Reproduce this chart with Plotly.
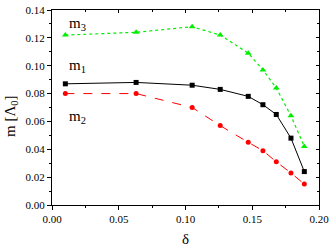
import plotly.graph_objects as go

delta = [0.01, 0.063, 0.105, 0.126, 0.147, 0.158, 0.168, 0.179, 0.189]
m1 = [0.087, 0.088, 0.086, 0.083, 0.078, 0.072, 0.065, 0.048, 0.024]
m2 = [0.080, 0.080, 0.070, 0.057, 0.045, 0.039, 0.031, 0.023, 0.015]
m3 = [0.122, 0.124, 0.128, 0.122, 0.109, 0.097, 0.084, 0.064, 0.042]

x_ticks = [0.00, 0.05, 0.10, 0.15, 0.20]
y_ticks = [0.00, 0.02, 0.04, 0.06, 0.08, 0.10, 0.12, 0.14]

FONT = "'Liberation Serif', 'DejaVu Serif', serif"

fig = go.Figure()
fig.add_trace(go.Scatter(x=delta, y=m3, mode="lines+markers",
                         line=dict(color="#00ee00", width=1.2, dash="dot"),
                         marker=dict(symbol="triangle-up", size=6, color="#00ee00")))
fig.add_trace(go.Scatter(x=delta, y=m1, mode="lines+markers",
                         line=dict(color="black", width=1),
                         marker=dict(symbol="square", size=5, color="black")))
fig.add_trace(go.Scatter(x=delta, y=m2, mode="lines+markers",
                         line=dict(color="red", width=1, dash="dash"),
                         marker=dict(symbol="circle", size=5, color="red")))

# invisible trace to activate secondary axes
fig.add_trace(go.Scatter(x=[0], y=[0], xaxis="x2", yaxis="y2", mode="markers",
                         marker=dict(opacity=0), hoverinfo="skip"))

labels = [("m<sub>3</sub>", 0.130), ("m<sub>1</sub>", 0.100), ("m<sub>2</sub>", 0.063)]
for txt, yv in labels:
    fig.add_annotation(x=0.011, y=yv, text=txt, showarrow=False, xanchor="left",
                       font=dict(family=FONT, size=15, color="black"))

# axis titles
fig.add_annotation(x=0.5, y=-0.174, xref="paper", yref="paper", text="δ", showarrow=False,
                   xanchor="center", yanchor="middle",
                   font=dict(family=FONT, size=15, color="black"))
fig.add_annotation(x=-0.154, y=0.456, xref="paper", yref="paper", text="m [Λ<sub>0</sub>]",
                   showarrow=False, textangle=-90, xanchor="center", yanchor="middle",
                   font=dict(family=FONT, size=15, color="black"))

common_axis = dict(showgrid=False, zeroline=False, showline=True, linecolor="black",
                   linewidth=1, ticks="outside", ticklen=4, tickcolor="black",
                   automargin=False, tickmode="array",
                   tickfont=dict(family=FONT, size=11, color="black"))

fig.update_layout(
    width=332, height=248,
    margin=dict(l=52, r=13, t=10, b=43),
    plot_bgcolor="white", paper_bgcolor="white",
    font=dict(family=FONT, size=11, color="black"),
    showlegend=False,
    xaxis=dict(range=[0, 0.2], tickvals=x_ticks, ticktext=[f"{v:.2f}" for v in x_ticks],
               minor=dict(ticks="outside", ticklen=2, tickvals=[0.025, 0.075, 0.125, 0.175], tickcolor="black"),
               **common_axis),
    yaxis=dict(range=[0, 0.14], tickvals=y_ticks, ticktext=[f"{v:.2f}" for v in y_ticks],
               minor=dict(ticks="outside", ticklen=2, tickvals=[0.01, 0.03, 0.05, 0.07, 0.09, 0.11, 0.13], tickcolor="black"),
               **common_axis),
    xaxis2=dict(range=[0, 0.2], overlaying="x", side="top", showgrid=False, zeroline=False,
                showline=True, linecolor="black", linewidth=1, ticks="inside", ticklen=3,
                tickmode="array", tickvals=x_ticks, showticklabels=False, tickcolor="black",
                automargin=False,
                minor=dict(ticks="inside", ticklen=2, tickvals=[0.025, 0.075, 0.125, 0.175], tickcolor="black")),
    yaxis2=dict(range=[0, 0.14], overlaying="y", side="right", showgrid=False, zeroline=False,
                showline=True, linecolor="black", linewidth=1, ticks="inside", ticklen=3,
                tickmode="array", tickvals=y_ticks, showticklabels=False, tickcolor="black",
                automargin=False,
                minor=dict(ticks="inside", ticklen=2, tickvals=[0.01, 0.03, 0.05, 0.07, 0.09, 0.11, 0.13], tickcolor="black")),
)

# remove the browser's default 8px page margin so the figure fills the window
fig.write_html("out.html", config={"displayModeBar": False},
               post_script="document.body.style.margin='0';")
